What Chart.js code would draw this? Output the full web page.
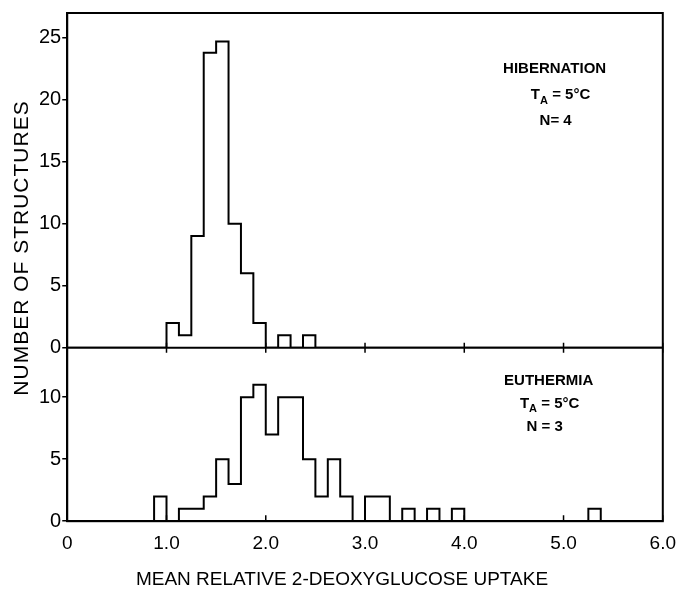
<!DOCTYPE html>
<html>
<head>
<meta charset="utf-8">
<script src="https://cdn.jsdelivr.net/npm/chart.js@4"></script>
<style>
  body { margin: 0; background: #fff; }
  #wrap { width: 679px; height: 601px; }
</style>
</head>
<body>
<div id="wrap"><canvas id="graph"></canvas></div>
<script>
// left edge of each 0.125-wide bin and the number of structures in it
const hibEdges  = [0, 1.0, 1.125, 1.25, 1.375, 1.5, 1.625, 1.75, 1.875, 2.0, 2.125, 2.25, 2.375, 2.5, 6.0];
const hibCounts = [0, 2, 1, 9, 23.8, 24.7, 10, 6, 2, 0, 1, 0, 1, 0, 0];

const euthEdges  = [0, 0.875, 1.0, 1.125, 1.25, 1.375, 1.5, 1.625, 1.75, 1.875, 2.0, 2.125, 2.25, 2.375, 2.5, 2.625, 2.75, 2.875, 3.0, 3.125, 3.25, 3.375, 3.5, 3.625, 3.75, 3.875, 4.0, 5.25, 5.375, 6.0];
const euthCounts = [0, 2, 0, 1, 1, 2, 5, 3, 10, 11, 7, 10, 10, 5, 2, 5, 2, 0, 2, 2, 0, 1, 0, 1, 0, 1, 0, 1, 0, 0];

const xTicks = [0, 1, 2, 3, 4, 5, 6];
const xTickLabels = ["0", "1.0", "2.0", "3.0", "4.0", "5.0", "6.0"];

const toPoints = (xs, ys) => xs.map((x, i) => ({ x: x, y: ys[i] }));

const sans = '"Liberation Sans", Arial, sans-serif';
const tickFont = { family: sans, size: 19 };
const yTickFont = { family: sans, size: 20 };

function noteText(ctx, txt, cx, y) {
  ctx.font = "bold 15px " + sans;
  ctx.textAlign = "center";
  ctx.fillText(txt, cx, y);
}

function noteTA(ctx, rest, cx, y) {
  ctx.font = "bold 15px " + sans;
  const wT = ctx.measureText("T").width;
  const wR = ctx.measureText(rest).width;
  ctx.font = "bold 11px " + sans;
  const wA = ctx.measureText("A").width;
  let x = cx - (wT + wA + wR) / 2;
  ctx.textAlign = "left";
  ctx.font = "bold 15px " + sans;
  ctx.fillText("T", x, y);
  ctx.font = "bold 11px " + sans;
  ctx.fillText("A", x + wT, y + 6);
  ctx.font = "bold 15px " + sans;
  ctx.fillText(rest, x + wT + wA, y);
}

const frame = {
  id: "frame",
  afterDraw(chart) {
    const ctx = chart.ctx, a = chart.chartArea, s = chart.scales;
    const mid = s.yTop.getPixelForValue(0);
    ctx.save();
    ctx.strokeStyle = "#000";
    ctx.lineWidth = 2;
    ctx.strokeRect(a.left, a.top, a.right - a.left, a.bottom - a.top);
    ctx.beginPath();
    ctx.moveTo(a.left, mid);
    ctx.lineTo(a.right, mid);
    ctx.stroke();

    // small inside ticks on the x axis and across the middle line
    ctx.lineWidth = 1.5;
    xTicks.forEach(v => {
      const px = s.x.getPixelForValue(v);
      ctx.beginPath();
      ctx.moveTo(px, a.bottom);
      ctx.lineTo(px, a.bottom - 6);
      ctx.moveTo(px, mid - 5);
      ctx.lineTo(px, mid + 5);
      ctx.stroke();
    });

    ctx.fillStyle = "#000";
    ctx.textBaseline = "middle";

    // axis titles
    ctx.font = "19px " + sans;
    ctx.textAlign = "center";
    ctx.fillText("MEAN RELATIVE 2-DEOXYGLUCOSE UPTAKE", 342, 580);

    ctx.save();
    ctx.translate(22, 248);
    ctx.rotate(-Math.PI / 2);
    ctx.font = "21px " + sans;
    ctx.letterSpacing = "1px";
    ctx.textAlign = "center";
    ctx.fillText("NUMBER OF STRUCTURES", 0, 0);
    ctx.restore();

    // panel notes
    const px = v => s.x.getPixelForValue(v);
    noteText(ctx, "HIBERNATION", px(4.91), s.yTop.getPixelForValue(22.5));
    noteTA(ctx, " = 5°C", px(4.97), s.yTop.getPixelForValue(20.4));
    noteText(ctx, "N= 4", px(4.92), s.yTop.getPixelForValue(18.3));

    noteText(ctx, "EUTHERMIA", px(4.85), s.yBot.getPixelForValue(11.35));
    noteTA(ctx, " = 5°C", px(4.86), s.yBot.getPixelForValue(9.5));
    noteText(ctx, "N = 3", px(4.81), s.yBot.getPixelForValue(7.6));
    ctx.restore();
  }
};

const yCommon = {
  type: "linear",
  position: "left",
  stack: "panels",
  min: 0,
  border: { display: true, color: "#000", width: 2 },
  grid: { drawOnChartArea: false, drawTicks: true, tickLength: 5, color: "#000", lineWidth: 1.5 },
  ticks: { stepSize: 5, includeBounds: false, color: "#000", font: yTickFont, padding: 1 }
};

new Chart("graph", {
  type: "line",
  data: {
    datasets: [{
      label: "Hibernation",
      data: toPoints(hibEdges, hibCounts),
      yAxisID: "yTop",
      borderColor: "#000",
      borderWidth: 2,
      stepped: true,
      pointRadius: 0,
      fill: false
    }, {
      label: "Euthermia",
      data: toPoints(euthEdges, euthCounts),
      yAxisID: "yBot",
      borderColor: "#000",
      borderWidth: 2,
      stepped: true,
      pointRadius: 0,
      fill: false
    }]
  },
  options: {
    responsive: true,
    maintainAspectRatio: false,
    animation: false,
    layout: { padding: { left: 38, right: 8, top: 9, bottom: 43 } },
    plugins: {
      legend: { display: false },
      tooltip: { enabled: false }
    },
    scales: {
      x: {
        type: "linear",
        min: 0,
        max: 6,
        border: { display: true, color: "#000", width: 2 },
        grid: { display: false },
        afterBuildTicks: axis => { axis.ticks = xTicks.map(v => ({ value: v })); },
        ticks: {
          color: "#000",
          font: tickFont,
          padding: 3,
          maxRotation: 0,
          callback: (v, i) => xTickLabels[i]
        }
      },
      // the stack is laid out bottom first, so the euthermia panel comes first
      yBot: Object.assign({}, yCommon, { max: 14, stackWeight: 14 }),
      yTop: Object.assign({}, yCommon, { max: 27, stackWeight: 27 })
    }
  },
  plugins: [frame]
});
</script>
</body>
</html>
